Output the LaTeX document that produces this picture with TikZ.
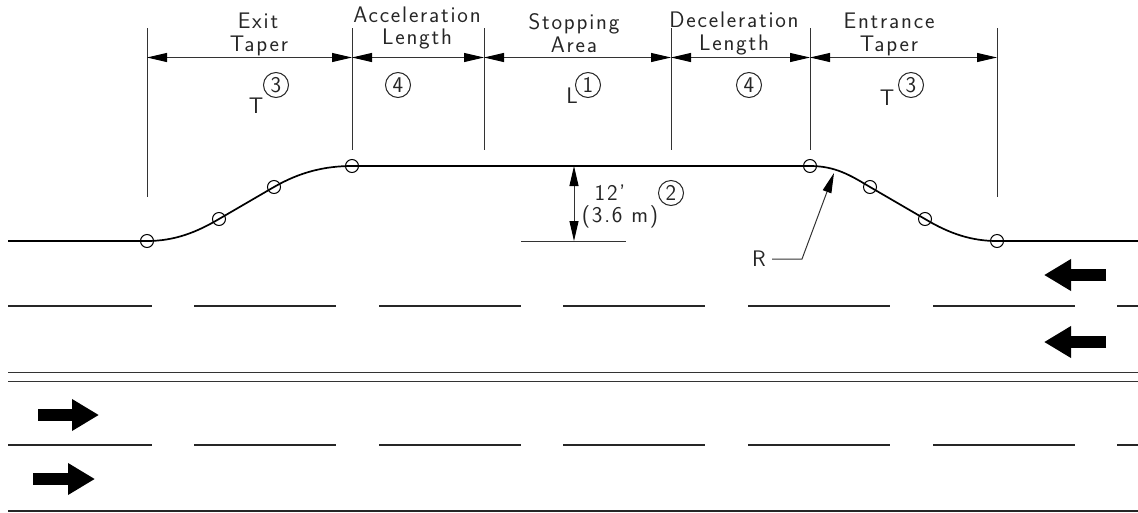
\documentclass[tikz,border=0pt]{standalone}
\usepackage{fontspec}
\setsansfont{Latin Modern Sans}[LetterSpace=8]
\usetikzlibrary{
  arrows.meta,
}

\begin{document}
\begin{tikzpicture}[
    x=1pt, y=-1pt,
    road/.style={line width=1.7pt, black},
    lane/.style={line width=1.2pt, black!85},
    thin line/.style={line width=1pt, black!80},
    tip/.style={-{Triangle[length=20pt,width=9pt,black]}},
    dim/.style={line width=1pt, black!80, {Triangle[length=20pt,width=9pt,black]}-{Triangle[length=20pt,width=9pt,black]}},
    lab/.style={font=\fontsize{22.5}{24}\sffamily, inner sep=0pt, anchor=base, black!85},
    num/.style={font=\fontsize{22.5}{24}\sffamily, draw=black, line width=1pt, circle, minimum size=25pt, inner sep=0pt, text height=14pt, text depth=0pt, black!85},
    mark pt/.style={draw=black, line width=1pt, circle, minimum size=13pt, inner sep=0pt},
    flow/.style={line width=12pt, -{Triangle[length=27pt,width=30pt]}},
  ]
  \useasboundingbox (0,0) rectangle (1138,512);

  % dimension ticks
  \foreach \name/\xx/\yy in {a/147/197, b/352/150, c/484/150, d/671/150, e/810/150, f/997/197} {
      \coordinate (t\name) at (\xx,28);
      \coordinate (m\name) at (\xx,57.5);
      \draw[thin line] (t\name) -- (\xx,\yy);
    }
  \foreach \i/\j in {a/b, b/c, c/d, d/e, e/f} {
      \draw[dim] (m\i) -- (m\j);
    }

  % road edge
  \node[mark pt] (p0) at (147,241) {};
  \node[mark pt] (p1) at (219,219) {};
  \node[mark pt] (p2) at (274,187) {};
  \node[mark pt] (p3) at (352,166) {};
  \node[mark pt] (p4) at (810,166) {};
  \node[mark pt] (p5) at (870,187) {};
  \node[mark pt] (p6) at (925,219) {};
  \node[mark pt] (p7) at (997,241) {};
  \coordinate (edgeL) at (8,241);
  \coordinate (edgeR) at (1138,241);
  \draw[road] (edgeL) -- (p0.center)
    .. controls (175,241) and (197,232) .. (p1.center) -- (p2.center)
    .. controls (300,172) and (325,166) .. (p3.center) -- (p4.center)
    .. controls (835,166) and (850,175) .. (p5.center) -- (p6.center)
    .. controls (950,234) and (972,241) .. (p7.center) -- (edgeR);

  % lanes
  \foreach \yy in {306,445} {
      \foreach \xa/\xb in {8/152, 194/336, 379/521, 563/705, 748/890, 933/1075, 1117/1138} {
          \draw[lane] (\xa,\yy) -- (\xb,\yy);
        }
    }
  \draw[thin line] (8,372) -- (1138,372);
  \draw[thin line] (8,381) -- (1138,381);
  \draw[lane] (8,511) -- (1138,511);

  \draw[flow] (1106,275) -- (1044,275);
  \draw[flow] (1106,342) -- (1044,342);
  \draw[flow] (38,415) -- (99,415);
  \draw[flow] (33,479) -- (95,479);

  % offset
  \coordinate (h0) at (574,166);
  \coordinate (h1) at (574,241);
  \draw[dim] (h0) -- (h1);
  \draw[thin line] (521,241) -- (626,241);
  \node[lab] (off1) at (610,200) {12'};
  \node[lab] (off2) at (620,222) {(3.6\ m)};
  \node[num] (n2) at (671,193) {2};

  % radius
  \node[lab] (rad) at (759,266) {R};
  \coordinate (radT) at (834,173);
  \draw[thin line, tip] (772,259) -- (802,259) -- (radT);

  % labels
  \node[lab] (l1) at (258,28) {Exit};
  \node[lab] (l2) at (259,51) {Taper};
  \node[lab] (l3) at (417,22) {Acceleration};
  \node[lab] (l4) at (417,44) {Length};
  \node[lab] (l5) at (574,29) {Stopping};
  \node[lab] (l6) at (574,52) {Area};
  \node[lab] (l7) at (734,27) {Deceleration};
  \node[lab] (l8) at (734,50) {Length};
  \node[lab] (l9) at (889,28) {Entrance};
  \node[lab] (l10) at (889,51) {Taper};

  \node[num] (n3a) at (276,85) {3};
  \node[lab] (va) at (256,113) {T};
  \node[num] (n4a) at (398,85) {4};
  \node[num] (n1) at (588,85) {1};
  \node[lab] (vb) at (572,103) {L};
  \node[num] (n4b) at (749,85) {4};
  \node[num] (n3b) at (911,85) {3};
  \node[lab] (vc) at (887,105) {T};
\end{tikzpicture}
\end{document}
